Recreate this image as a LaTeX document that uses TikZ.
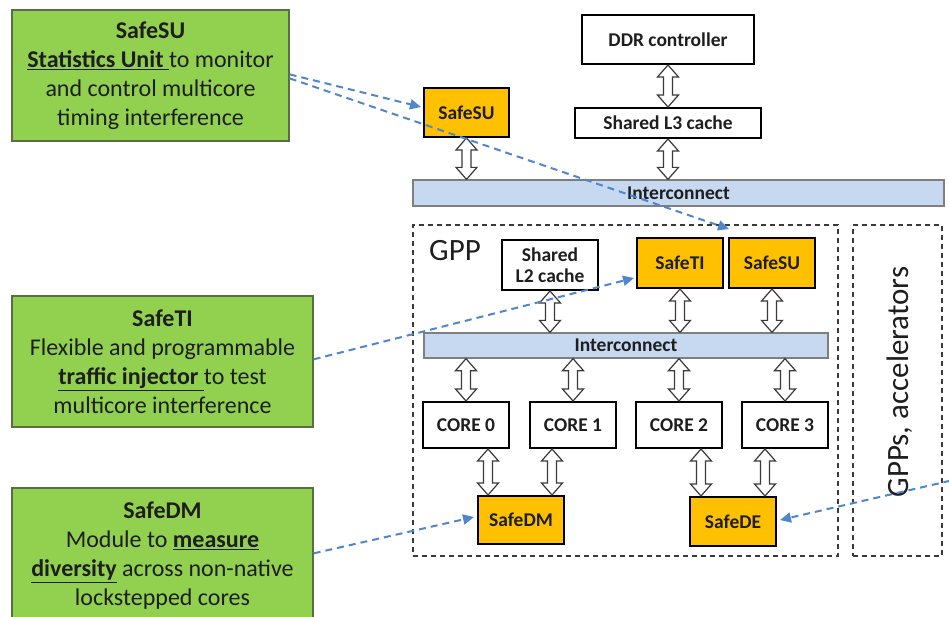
\documentclass[tikz,border=0pt]{standalone}
\usepackage{fontspec}
\setmainfont{Carlito}
\usetikzlibrary{arrows.meta,calc}
\definecolor{gfill}{HTML}{92D050}
\definecolor{gline}{HTML}{5A6E45}
\definecolor{ofill}{HTML}{FFC000}
\definecolor{icfill}{HTML}{C6D9F1}
\definecolor{icline}{HTML}{7F7F7F}
\definecolor{bl}{HTML}{4F86CE}
\definecolor{dgray}{HTML}{3A3A3A}
\definecolor{txt}{HTML}{1E1E1E}
\newcommand\bx[7]{\node[#2,minimum width={#5-#3},minimum height={#6-#4}] (#1) at ({(#3+#5)/2},{(#4+#6)/2}) {#7};}
\newcommand\dblarr[2]{\draw[hollow] let \p1=#1, \p2=#2 in
  (\x2,\y1) -- (\x2+10.5pt,\y1-12pt) -- (\x2+4.5pt,\y1-12pt) -- (\x2+4.5pt,\y2+12pt)
  -- (\x2+10.5pt,\y2+12pt) -- (\x2,\y2) -- (\x2-10.5pt,\y2+12pt) -- (\x2-4.5pt,\y2+12pt)
  -- (\x2-4.5pt,\y1-12pt) -- (\x2-10.5pt,\y1-12pt) -- cycle;}
\begin{document}
\begin{tikzpicture}[x=1pt,y=-1pt,
  wbox/.style={draw=black,line width=2pt,fill=white,inner sep=0pt,align=center,text=txt,
     font=\bfseries\fontsize{19.5}{21}\selectfont},
  obox/.style={wbox,fill=ofill},
  icbox/.style={draw=icline,line width=1.3pt,fill=icfill,inner sep=0pt,text=txt,
     font=\bfseries\fontsize{19.5}{21}\selectfont},
  gbox/.style={draw=gline,line width=1.3pt,fill=gfill,inner sep=0pt,align=center,text=txt,
     font=\fontsize{24}{29}\selectfont},
  dbox/.style={draw=dgray,line width=1.8pt,dash pattern=on 5pt off 4pt,inner sep=0pt},
  hollow/.style={draw=dgray,line width=1.2pt,fill=white},
  link/.style={draw=bl,line width=2pt,dash pattern=on 7pt off 5pt,
     -{Triangle[length=11pt,width=10pt]}},
  big/.style={font=\fontsize{31}{34}\selectfont,text=txt,inner sep=0pt}
]
\useasboundingbox (0,0) rectangle (949,616);
\clip (0,0) rectangle (949,616);
\fill[white] (0,0) rectangle (949,616);

% dashed group boxes
\bx{gpp}{dbox}{413}{225}{838}{556}{}
\bx{acc}{dbox}{853}{225}{942}{556}{}
\node[big,anchor=north west] (gpplbl) at (429,240) {GPP};
\node[big,rotate=90] (acclbl) at (900,382) {GPPs, accelerators};

% top level
\bx{ddr}{wbox}{582}{15}{754}{64}{DDR controller}
\bx{l3}{wbox}{575}{108}{761}{138}{Shared L3 cache}
\bx{su1}{obox}{424}{88}{509}{137}{SafeSU}
\bx{ic1}{icbox}{413}{180}{944}{206}{Interconnect}

% GPP content
\bx{l2}{wbox}{502}{240}{598}{290}{Shared\\L2 cache}
\bx{ti}{obox}{637}{238}{723}{288}{SafeTI}
\bx{su2}{obox}{729}{238}{815}{288}{SafeSU}
\bx{ic2}{icbox}{424}{333}{828}{358}{Interconnect}
\bx{c0}{wbox}{423}{402}{509}{448}{CORE 0}
\bx{c1}{wbox}{530}{402}{616}{448}{CORE 1}
\bx{c2}{wbox}{636}{402}{722}{448}{CORE 2}
\bx{c3}{wbox}{742}{402}{828}{448}{CORE 3}
\bx{dm}{obox}{478}{496}{564}{544}{SafeDM}
\bx{de}{obox}{690}{497}{776}{546}{SafeDE}

% green description boxes
\bx{g1}{gbox}{12}{10}{289}{141}{\textbf{SafeSU}\\\underline{\textbf{Statistics Unit} }to monitor\\and control multicore\\timing interference}
\bx{g2}{gbox}{12}{296}{313}{427}{\textbf{SafeTI}\\Flexible and programmable\\\underline{\textbf{traffic injector} }to test\\multicore interference}
\bx{g3}{gbox}{12}{488}{313}{624}{\textbf{SafeDM}\\Module to \underline{\textbf{measure}}\\\underline{\textbf{diversity}} across non-native\\lockstepped cores}

% hollow double arrows
\dblarr{(su1.south)}{(su1.south |- ic1.north)}
\dblarr{(ddr.south)}{(l3.north)}
\dblarr{(l3.south)}{(l3.south |- ic1.north)}
\dblarr{(l2.south)}{(l2.south |- ic2.north)}
\dblarr{(ti.south)}{(ti.south |- ic2.north)}
\dblarr{(su2.south)}{(su2.south |- ic2.north)}
\foreach \c in {c0,c1,c2,c3}{\dblarr{(\c.north |- ic2.south)}{(\c.north)}}
\coordinate (a0) at (488,0);
\coordinate (a1) at (552,0);
\coordinate (a2) at (701,0);
\coordinate (a3) at (765,0);
\dblarr{(a0 |- c0.south)}{(a0 |- dm.north)}
\dblarr{(a1 |- c1.south)}{(a1 |- dm.north)}
\dblarr{(a2 |- c2.south)}{(a2 |- de.north)}
\dblarr{(a3 |- c3.south)}{(a3 |- de.north)}

% dashed blue links
\coordinate (s1) at ($(g1.north east)+(0,65)$);
\coordinate (s2) at ($(g1.north east)+(0,69)$);
\coordinate (t1) at ($(su1.north west)+(-2,20)$);
\coordinate (t2) at ($(su2.north west)+(1,-8)$);
\coordinate (s3) at ($(g2.north east)+(0,64)$);
\coordinate (t3) at ($(ti.north west)+(-2,41)$);
\coordinate (s4) at ($(g3.north east)+(0,66)$);
\coordinate (t4) at ($(dm.north west)+(-3,22)$);
\coordinate (s5) at (962,478);
\coordinate (t5) at ($(de.north east)+(3,24)$);
\draw[link] (s1) -- (t1);
\draw[link] (s2) -- (t2);
\draw[link] (s3) -- (t3);
\draw[link] (s4) -- (t4);
\draw[link] (s5) -- (t5);
\end{tikzpicture}
\end{document}
